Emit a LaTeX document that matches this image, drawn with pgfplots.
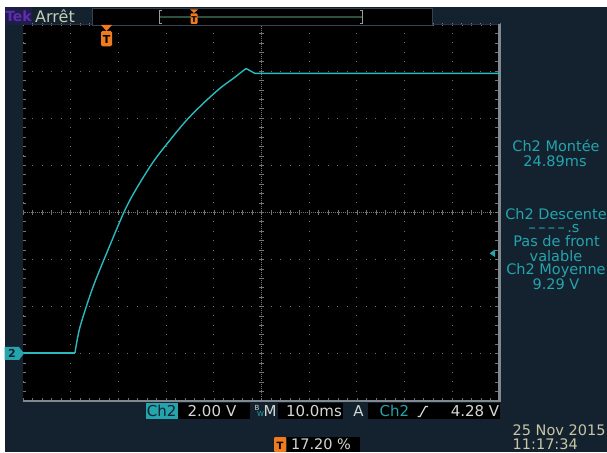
\documentclass[border=0pt]{standalone}
\usepackage{pgfplots}
\pgfplotsset{compat=1.18}
\usepackage{fontspec}
\setmainfont{DejaVu Sans}

\definecolor{scopebg}{RGB}{20,34,48}
\definecolor{trace}{RGB}{42,186,190}
\definecolor{meas}{RGB}{36,164,172}
\definecolor{gridgray}{RGB}{115,115,115}
\definecolor{framegray}{RGB}{128,136,144}
\definecolor{topedge}{RGB}{42,52,64}
\definecolor{barborder}{RGB}{52,66,82}
\definecolor{tekorange}{RGB}{240,122,30}
\definecolor{datecol}{RGB}{200,198,165}
\definecolor{valtext}{RGB}{212,216,212}
\definecolor{tekpurple}{RGB}{96,44,180}
\definecolor{tekbox}{RGB}{30,30,72}
\definecolor{arretcol}{RGB}{192,206,178}
\definecolor{barline}{RGB}{46,80,64}
\definecolor{bracket}{RGB}{150,160,150}

\newcommand{\fs}[1]{\fontsize{#1}{#1}\selectfont}

\begin{document}
\begin{tikzpicture}[x=1pt,y=1pt]
\clip (0,0) rectangle (607,452);
\fill[white] (0,0) rectangle (607,452);

% screen, in pixel coordinates (y downwards)
\begin{scope}[shift={(0,452)},yscale=-1]
  \fill[scopebg] (4.5,6.8) rectangle (607,452);
  \fill[black] (23,24) rectangle (500,400.7);

  % dotted graticule
  \foreach \i in {0,1,2,3,4,6,7,8,9,10}{
    \foreach \j in {0,...,40}{
      \fill[gridgray] ({23+\i*47.7-0.5},{24+\j*9.4175-0.5}) rectangle ++(1,1);
    }
  }
  \foreach \k in {0,1,2,3,5,6,7,8}{
    \foreach \m in {0,...,50}{
      \fill[gridgray] ({23+\m*9.54-0.5},{24+\k*47.0875-0.5}) rectangle ++(1,1);
    }
  }
  % centre cross
  \draw[gridgray, line width=0.7pt, dash pattern=on 0.8pt off 1.2pt] (23,212.35) -- (500,212.35);
  \draw[gridgray, line width=0.7pt, dash pattern=on 0.8pt off 1.2pt] (261.5,24) -- (261.5,400.7);
  \foreach \m in {0,...,50}{
    \draw[gridgray, line width=0.6pt] ({23+\m*9.54},210) -- ++(0,4.7);
    \draw[gridgray, line width=0.6pt] ({23+\m*9.54},24) -- ++(0,2.5);
    \draw[gridgray, line width=0.6pt] ({23+\m*9.54},400.7) -- ++(0,-2.5);
  }
  \foreach \j in {0,...,40}{
    \draw[gridgray, line width=0.6pt] (259.2,{24+\j*9.4175}) -- ++(4.6,0);
    \draw[gridgray, line width=0.6pt] (23,{24+\j*9.4175}) -- ++(2.5,0);
    \draw[gridgray, line width=0.6pt] (497.5,{24+\j*9.4175}) -- ++(-2.5,0);
  }
  % frame
  \draw[topedge, line width=0.8pt] (23,24.3) -- (500,24.3);
  \fill[framegray] (23,400) rectangle (500.7,401.6);
  \fill[framegray] (497.6,24) rectangle (500.7,401.6);
\end{scope}

\begin{axis}[
  at={(23pt,51.3pt)}, anchor=south west,
  scale only axis, width=477pt, height=376.7pt,
  xmin=-17.2, xmax=82.8, ymin=-2, ymax=14,
  hide axis, clip=true]
  % Ch2, time in ms, voltage in V
  \addplot[trace, line width=1.4pt] coordinates {
    (-17.2,0.03) (-6.3,0.03)
  };
  \addplot[trace, line width=1.4pt, smooth, tension=0.5] coordinates {
    (-6.3,0.03) (-5.25,1.13) (-2.52,2.83) (1.04,4.61) (4.18,6.10)
    (6.64,7.03) (10.12,8.15) (13.62,9.07) (17.12,9.92) (20.6,10.63)
    (24.1,11.27) (26.89,11.69) (29.55,12.11)
  };
  \addplot[trace, line width=1.4pt] coordinates {
    (29.55,12.11) (31.44,11.90) (50,11.90) (82.8,11.90)
  };
\end{axis}

\begin{scope}[shift={(0,452)},yscale=-1]
  % status bar
  \fill[tekbox] (5,7) rectangle (32,25);
  \node[anchor=base, text=tekpurple, font=\fs{14}\bfseries, inner sep=0] at (18.5,22) {Tek};
  \node[anchor=base west, text=arretcol, font=\fs{16}, inner sep=0] at (35,22.5) {Arrêt};
  \filldraw[fill=black, draw=barborder, line width=0.8pt] (92,8.5) rectangle (432,25);
  \draw[barline, line width=1.8pt] (159.5,16.8) -- (362,16.8);
  \draw[bracket, line width=0.8pt] (161.5,10) -- (159,10) -- (159,23.5) -- (161.5,23.5);
  \draw[bracket, line width=0.8pt] (359.5,10) -- (362,10) -- (362,23.5) -- (359.5,23.5);
  \fill[tekorange] (190,9.5) -- (198,9.5) -- (194,13) -- cycle;
  \fill[tekorange, rounded corners=1pt] (190.5,13.3) rectangle (197.5,24);
  \node[anchor=base, text=black, font=\fs{8}\bfseries, inner sep=0] at (194,22.3) {T};

  % trigger position marker
  \fill[tekorange] (101,25) -- (112,25) -- (106.5,31) -- cycle;
  \fill[tekorange, rounded corners=1.5pt] (101,31) rectangle (112,46.5);
  \node[anchor=base, text=black, font=\fs{11}\bfseries, inner sep=0] at (106.5,44) {T};

  % trigger level and ground markers
  \fill[meas] (489.5,253.3) -- (495,249.5) -- (495,257.1) -- cycle;
  \fill[meas] (4.5,347) -- (19,347) -- (24,353.5) -- (19,360) -- (4.5,360) -- cycle;
  \node[anchor=base, text=scopebg, font=\fs{11}\bfseries, inner sep=0] at (12,357.8) {2};

  % measurements
  \begin{scope}[every node/.style={anchor=base, text=meas, font=\fs{14.5}, inner sep=0}]
    \node at (556,151.7) {Ch2 Montée};
    \node at (555,166.7) {24.89ms};
    \node at (556,219.5) {Ch2 Descente};
    \node at (554,232.5) {–\,–\,–\,–\,.s};
    \node at (556.5,247) {Pas de front};
    \node at (556,261.5) {valable};
    \node at (556,275) {Ch2 Moyenne};
    \node at (556,289.5) {9.29 V};
  \end{scope}

  % bottom readout
  \fill[meas] (146,403) rectangle (177.5,419);
  \node[anchor=base, text=scopebg, font=\fs{15}, inner sep=0] at (161.7,416.5) {Ch2};
  \fill[black] (178,403) rectangle (250,419);
  \node[anchor=base, text=valtext, font=\fs{15}, inner sep=0] at (212,416.5) {2.00\,\,V};
  \node[anchor=base, text=valtext, font=\fs{7}, inner sep=0] at (257,410.5) {B};
  \node[anchor=base, text=meas, font=\fs{7}, inner sep=0] at (260.5,416.5) {W};
  \node[anchor=base west, text=valtext, font=\fs{15}, inner sep=0] at (263.5,416.5) {M};
  \fill[black] (278,403) rectangle (343,419);
  \node[anchor=base, text=valtext, font=\fs{15}, inner sep=0] at (314,416.5) {10.0ms};
  \node[anchor=base, text=valtext, font=\fs{15}, inner sep=0] at (358.5,416.5) {A};
  \fill[black] (368,403) rectangle (500,419);
  \node[anchor=base, text=meas, font=\fs{15}, inner sep=0] at (394.5,416.5) {Ch2};
  \draw[valtext, line width=1.2pt] (417.5,416.5) -- (420,416.5) -- (425.5,406.5) -- (428,406.5);
  \node[anchor=base, text=valtext, font=\fs{15}, inner sep=0] at (475,416.5) {4.28 V};

  \fill[tekorange, rounded corners=1pt] (274,437) rectangle (286,452);
  \node[anchor=base, text=black, font=\fs{10}\bfseries, inner sep=0] at (280,449) {T};
  \fill[black] (286.5,437) rectangle (360,452);
  \node[anchor=base, text=valtext, font=\fs{14.5}, inner sep=0] at (321,449.5) {17.20 \%};

  \node[anchor=base west, text=datecol, font=\fs{14.5}, inner sep=0] at (512.5,435.5) {25 Nov 2015};
  \node[anchor=base west, text=datecol, font=\fs{14.5}, inner sep=0] at (512.5,449.5) {11:17:34};
\end{scope}
\end{tikzpicture}
\end{document}
